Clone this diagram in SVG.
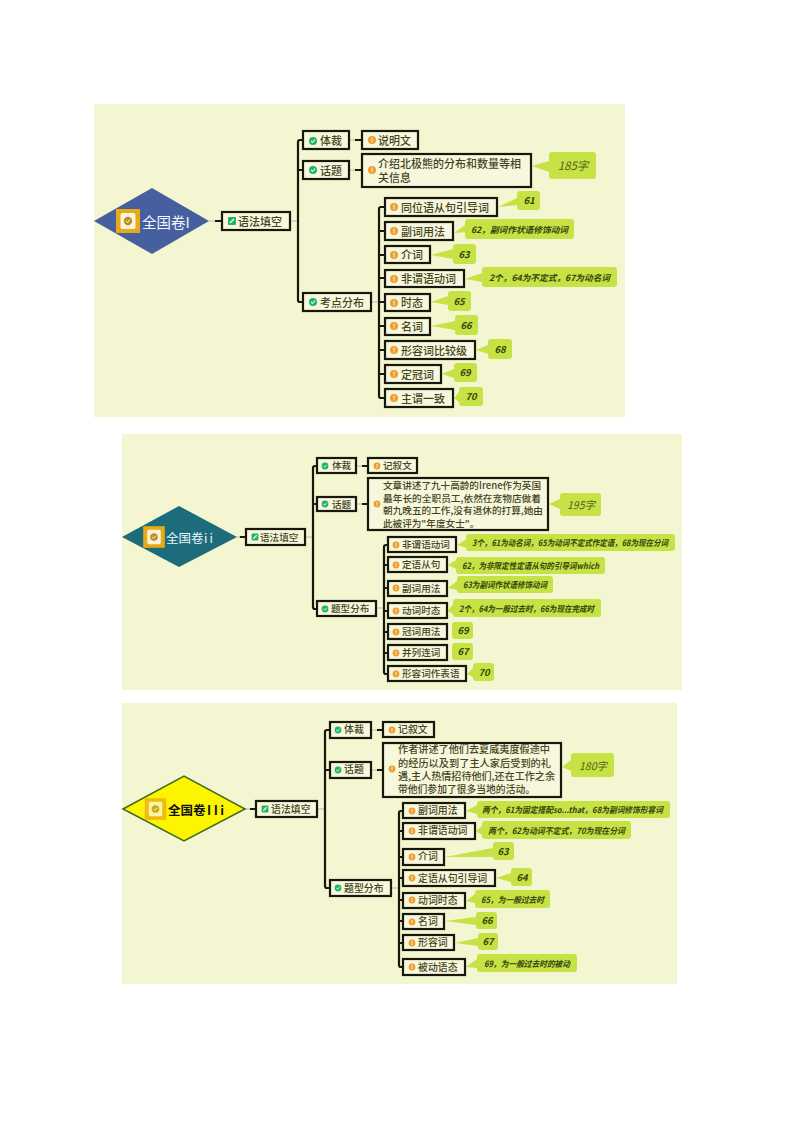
<svg xmlns="http://www.w3.org/2000/svg" width="794" height="1123" viewBox="0 0 794 1123">
<style>
text{font-family:"Noto Sans CJK SC","Liberation Sans",sans-serif;dominant-baseline:central;fill:#45441e;font-weight:500}
.p{fill:#f3f6d0}
.b{fill:#f6f7dc;stroke:#17170c;stroke-width:2.2}
.c{fill:#c6e244}
.c text,text.n{fill:#34440c;font-style:italic;font-weight:700;font-size:8.5px}
text.n{text-anchor:middle;font-size:9.5px}
text.w{fill:#55601c;font-weight:400;font-size:11.5px;text-anchor:middle}
.l{fill:none;stroke:#17170c;stroke-width:2.2}
.s{fill:none;stroke:#c9ccd0;stroke-width:1.5}
.t1{font-size:11px}.t2{font-size:9.6px}.t3{font-size:9.9px}
</style>
<defs>
<g id="ok"><circle r="4" fill="#1fb46a"/><path d="M-2-.2 -.5 1.5 2-1.4" fill="none" stroke="#eef" stroke-width="1.1"/></g>
<g id="warn"><circle r="4" fill="#ee9e2c"/><rect x="-.6" y="-2.4" width="1.2" height="3" fill="#fbeecb"/><rect x="-.6" y="1.2" width="1.2" height="1.1" fill="#fbeecb"/></g>
<g id="pen"><rect x="-4" y="-4" width="8" height="8" rx="1" fill="#1fb46a"/><path d="M-2 2 2-2" stroke="#f4f6d2" stroke-width="1.5"/></g>
<g id="badge"><rect x="-12" y="-12" width="24" height="24" fill="#e8ab18"/><rect x="-7.5" y="-8" width="15" height="16" rx="2" fill="#fbf3dc"/><circle r="4.2" fill="#b6901e"/><path d="M-2-.2 -.5 1.4 2-1.4" fill="none" stroke="#fff" stroke-width="1"/></g>
</defs>
<rect class="p" x="94" y="104" width="531" height="313"/>
<rect class="p" x="122" y="434" width="560" height="256"/>
<rect class="p" x="122" y="703" width="555" height="281"/>

<g id="connectors">
<path class="s" d="M209 221H221M291 221H298M350 140H361M350 170H361M372 302H379"/>
<path class="l" d="M215 221H221M361 140H355M361 170H355"/>
<path class="l" d="M302 140H300Q298 140 298 142V300Q298 302 300 302H302M298 170H302"/>
<path class="l" d="M384 207H381Q379 207 379 209V396Q379 398 381 398H384M379 231H384M379 255H384M379 278H384M379 302H384M379 326H384M379 350H384M379 374H384"/>
<path class="s" d="M237 537H245M306 537H313M357 466H367M357 504H367M377 608H384"/>
<path class="l" d="M240 537H245M367 466H362M367 504H362"/>
<path class="l" d="M316 466H315Q313 466 313 468V607Q313 609 315 609H316M313 504H316"/>
<path class="l" d="M387 545H386Q384 545 384 547V672Q384 674 386 674H387M384 565H387M384 588H387M384 611H387M384 632H387M384 653H387"/>
<path class="s" d="M245 809H255M318 809H325M372 730H382M372 770H382M392 888H399"/>
<path class="l" d="M250 809H255M382 730H377M382 770H377"/>
<path class="l" d="M329 730H327Q325 730 325 732V886Q325 888 327 888H329M325 770H329"/>
<path class="l" d="M402 811H401Q399 811 399 813V965Q399 967 401 967H402M399 831H402M399 857H402M399 878H402M399 900H402M399 921H402M399 943H402"/>
</g>

<g id="sheet1">
<g id="root1"><path d="M94 221 152 188 209 221 152 254Z" fill="#46609f"/><use href="#badge" x="128" y="221"/><text x="142" y="221" style="fill:#f4f6ff;font-size:14.500px;font-weight:400">全国卷I</text></g>
<g id="n1-1"><rect class="b" x="222" y="212" width="68" height="18"/><use href="#pen" x="232" y="221"/><text class="t1" x="238" y="221">语法填空</text></g>
<g id="n1-2"><rect class="b" x="303" y="131" width="46" height="18"/><use href="#ok" x="313" y="141"/><text class="t1" x="320" y="140">体裁</text></g>
<g id="n1-3"><rect class="b" x="303" y="161" width="46" height="18"/><use href="#ok" x="313" y="170"/><text class="t1" x="320" y="170">话题</text></g>
<g id="n1-4"><rect class="b" x="303" y="293" width="68" height="18"/><use href="#ok" x="313" y="302"/><text class="t1" x="320" y="302">考点分布</text></g>
<g id="n1-5"><rect class="b" x="362" y="131" width="56" height="18"/><use href="#warn" x="372" y="140"/><text class="t1" x="378" y="140">说明文</text></g>
<g id="n1-6"><g class="c"><path d="M532 166 549 161V172Z"/><rect x="549" y="152" width="47" height="27" rx="3"/></g><rect class="b" x="362" y="154" width="169" height="33"/><use href="#warn" x="372" y="170"/><text class="t1" x="378" y="163">介绍北极熊的分布和数量等相</text><text class="t1" x="378" y="177">关信息</text><text class="w" x="573" y="165" style="font-style:italic">185字</text></g>
<g id="n1-7"><path class="c" d="M498 207 517 198V205Z"/><rect class="c" x="517" y="191" width="23" height="19" rx="3"/><rect class="b" x="385" y="198" width="112" height="18"/><use href="#warn" x="394" y="207"/><text class="t1" x="401" y="207">同位语从句引导词</text><text class="n" x="529" y="200">61</text></g>
<g id="n1-8"><path class="c" d="M454 233 468 223V232Z"/><rect class="c" x="465" y="219" width="109" height="20" rx="3"/><rect class="b" x="385" y="222" width="68" height="18"/><use href="#warn" x="394" y="231"/><text class="t1" x="401" y="231">副词用法</text><g class="c"><text x="471" y="229" textLength="97" lengthAdjust="spacingAndGlyphs">62，副词作状语修饰动词</text></g></g>
<g id="n1-9"><path class="c" d="M431 255 453 249V259Z"/><rect class="c" x="453" y="244" width="23" height="20" rx="3"/><rect class="b" x="385" y="246" width="45" height="17"/><use href="#warn" x="394" y="255"/><text class="t1" x="401" y="254">介词</text><text class="n" x="464" y="254">63</text></g>
<g id="n1-10"><path class="c" d="M465 279 482 273V282Z"/><rect class="c" x="482" y="267" width="135" height="20" rx="3"/><rect class="b" x="385" y="270" width="79" height="17"/><use href="#warn" x="394" y="279"/><text class="t1" x="401" y="278">非谓语动词</text><g class="c"><text x="489" y="277" textLength="121" lengthAdjust="spacingAndGlyphs">2个，64为不定式，67为动名词</text></g></g>
<g id="n1-11"><path class="c" d="M431 302 448 296V305Z"/><rect class="c" x="448" y="291" width="23" height="20" rx="3"/><rect class="b" x="385" y="294" width="45" height="17"/><use href="#warn" x="394" y="303"/><text class="t1" x="401" y="302">时态</text><text class="n" x="459" y="301">65</text></g>
<g id="n1-12"><path class="c" d="M431 326 455 321V330Z"/><rect class="c" x="455" y="315" width="23" height="20" rx="3"/><rect class="b" x="385" y="318" width="45" height="17"/><use href="#warn" x="394" y="326"/><text class="t1" x="401" y="326">名词</text><text class="n" x="466" y="325">66</text></g>
<g id="n1-13"><path class="c" d="M476 350 488 345V354Z"/><rect class="c" x="488" y="339" width="24" height="20" rx="3"/><rect class="b" x="385" y="341" width="90" height="18"/><use href="#warn" x="394" y="350"/><text class="t1" x="401" y="350">形容词比较级</text><text class="n" x="500" y="349">68</text></g>
<g id="n1-14"><path class="c" d="M442 374 454 369V378Z"/><rect class="c" x="454" y="363" width="23" height="19" rx="3"/><rect class="b" x="385" y="365" width="56" height="18"/><use href="#warn" x="394" y="374"/><text class="t1" x="401" y="374">定冠词</text><text class="n" x="465" y="372">69</text></g>
<g id="n1-15"><path class="c" d="M454 398 459 392V402Z"/><rect class="c" x="459" y="387" width="24" height="19" rx="3"/><rect class="b" x="385" y="389" width="68" height="18"/><use href="#warn" x="394" y="398"/><text class="t1" x="401" y="398">主谓一致</text><text class="n" x="471" y="396">70</text></g>
</g>

<g id="sheet2">
<g id="root2"><path d="M122 537 179 506 237 537 179 567Z" fill="#1c6c7c"/><use href="#badge" transform="translate(154 537) scale(.9)"/><text x="166" y="537" style="fill:#eef6fa;font-size:12.500px;font-weight:400">全国卷</text><text x="204" y="537" style="fill:#eef6fa;font-size:12.500px;font-weight:400;letter-spacing:2px">ii</text></g>
<g id="n2-1"><rect class="b" x="246" y="529" width="59" height="16"/><use href="#pen" transform="translate(255 537) scale(.85)"/><text class="t2" x="260" y="537">语法填空</text></g>
<g id="n2-2"><rect class="b" x="317" y="458" width="39" height="15"/><use href="#ok" transform="translate(325 466) scale(.85)"/><text class="t2" x="332" y="465">体裁</text></g>
<g id="n2-3"><rect class="b" x="317" y="497" width="39" height="14"/><use href="#ok" transform="translate(325 504) scale(.85)"/><text class="t2" x="332" y="504">话题</text></g>
<g id="n2-4"><rect class="b" x="317" y="601" width="59" height="15"/><use href="#ok" transform="translate(325 609) scale(.85)"/><text class="t2" x="331" y="608">题型分布</text></g>
<g id="n2-5"><rect class="b" x="368" y="458" width="49" height="15"/><use href="#warn" transform="translate(377 466) scale(.85)"/><text class="t2" x="383" y="465">记叙文</text></g>
<g id="n2-6"><g class="c"><path d="M549 504 560 499V509Z"/><rect x="560" y="493" width="41" height="23" rx="3"/></g><rect class="b" x="368" y="478" width="180" height="52"/><use href="#warn" transform="translate(377 504) scale(.85)"/><text class="t2" x="383" y="485" textLength="158">文章讲述了九十高龄的Irene作为英国</text><text class="t2" x="383" y="498" textLength="158" lengthAdjust="spacingAndGlyphs">最年长的全职员工,依然在宠物店做着</text><text class="t2" x="383" y="510" textLength="160" lengthAdjust="spacingAndGlyphs">朝九晚五的工作,没有退休的打算,她由</text><text class="t2" x="383" y="523">此被评为"年度女士"。</text><text class="w" x="581" y="504" style="font-size:10.500px;font-style:italic">195字</text></g>
<g id="n2-7"><path class="c" d="M457 545 467 539V548Z"/><rect class="c" x="466" y="534" width="209" height="17" rx="3"/><rect class="b" x="388" y="537" width="68" height="15"/><use href="#warn" transform="translate(396 545) scale(.85)"/><text class="t2" x="402" y="544">非谓语动词</text><g class="c"><text x="472" y="542" textLength="196" lengthAdjust="spacingAndGlyphs">3个，61为动名词，65为动词不定式作定语，68为现在分词</text></g></g>
<g id="n2-8"><path class="c" d="M448 565 456 560V569Z"/><rect class="c" x="456" y="557" width="149" height="17" rx="3"/><rect class="b" x="388" y="557" width="59" height="15"/><use href="#warn" transform="translate(396 565) scale(.85)"/><text class="t2" x="402" y="564">定语从句</text><g class="c"><text x="462" y="565" textLength="137" lengthAdjust="spacingAndGlyphs">62，为非限定性定语从句的引导词which</text></g></g>
<g id="n2-9"><path class="c" d="M448 588 457 581V590Z"/><rect class="c" x="457" y="576" width="96" height="17" rx="3"/><rect class="b" x="388" y="581" width="59" height="15"/><use href="#warn" transform="translate(396 588) scale(.85)"/><text class="t2" x="402" y="588">副词用法</text><g class="c"><text x="463" y="584" textLength="84" lengthAdjust="spacingAndGlyphs">63为副词作状语修饰动词</text></g></g>
<g id="n2-10"><path class="c" d="M448 611 453 604V614Z"/><rect class="c" x="453" y="599" width="148" height="18" rx="3"/><rect class="b" x="388" y="603" width="59" height="15"/><use href="#warn" transform="translate(396 611) scale(.85)"/><text class="t2" x="402" y="610">动词时态</text><g class="c"><text x="459" y="608" textLength="135" lengthAdjust="spacingAndGlyphs">2个，64为一般过去时，66为现在完成时</text></g></g>
<g id="n2-11"><rect class="c" x="452" y="622" width="21" height="17" rx="3"/><rect class="b" x="388" y="624" width="59" height="15"/><use href="#warn" transform="translate(396 632) scale(.85)"/><text class="t2" x="402" y="631">冠词用法</text><text class="n" x="463" y="630">69</text></g>
<g id="n2-12"><rect class="c" x="452" y="643" width="21" height="17" rx="3"/><rect class="b" x="388" y="645" width="59" height="15"/><use href="#warn" transform="translate(396 653) scale(.85)"/><text class="t2" x="402" y="652">并列连词</text><text class="n" x="463" y="651">67</text></g>
<g id="n2-13"><path class="c" d="M467 674 473 668V677Z"/><rect class="c" x="473" y="663" width="21" height="18" rx="3"/><rect class="b" x="388" y="666" width="78" height="15"/><use href="#warn" transform="translate(396 674) scale(.85)"/><text class="t2" x="402" y="673">形容词作表语</text><text class="n" x="484" y="672">70</text></g>
</g>

<g id="sheet3">
<g id="root3"><path d="M123 809 184 776 245 809 184 841Z" fill="#fdf500" stroke="#3e6b20" stroke-width="1.500"/><use href="#badge" transform="translate(155.500 809) scale(.9)" opacity=".75"/><text x="168" y="809" style="fill:#111;font-weight:700;font-size:12.500px">全国卷</text><text x="207" y="809" style="fill:#111;font-weight:700;font-size:12.500px;letter-spacing:2.500px">IIi</text></g>
<g id="n3-1"><rect class="b" x="256" y="801" width="61" height="16"/><use href="#pen" transform="translate(265 809) scale(.85)"/><text class="t3" x="271" y="809">语法填空</text></g>
<g id="n3-2"><rect class="b" x="330" y="722" width="41" height="16"/><use href="#ok" transform="translate(338 730) scale(.85)"/><text class="t3" x="344" y="729">体裁</text></g>
<g id="n3-3"><rect class="b" x="330" y="762" width="41" height="16"/><use href="#ok" transform="translate(338 770) scale(.85)"/><text class="t3" x="344" y="769">话题</text></g>
<g id="n3-4"><rect class="b" x="330" y="880" width="61" height="16"/><use href="#ok" transform="translate(338 888) scale(.85)"/><text class="t3" x="344" y="888">题型分布</text></g>
<g id="n3-5"><rect class="b" x="383" y="722" width="51" height="15"/><use href="#warn" transform="translate(392 730) scale(.85)"/><text class="t3" x="398" y="729">记叙文</text></g>
<g id="n3-6"><g class="c"><path d="M562 767 571 760V771Z"/><rect x="571" y="753" width="43" height="24" rx="3"/></g><rect class="b" x="383" y="743" width="178" height="54"/><use href="#warn" transform="translate(392 769) scale(.85)"/><text class="t3" x="398" y="749" textLength="152" lengthAdjust="spacingAndGlyphs">作者讲述了他们去夏威夷度假途中</text><text class="t3" x="398" y="763" textLength="153" lengthAdjust="spacingAndGlyphs">的经历以及到了主人家后受到的礼</text><text class="t3" x="398" y="776" textLength="157" lengthAdjust="spacingAndGlyphs">遇,主人热情招待他们,还在工作之余</text><text class="t3" x="398" y="789" textLength="137" lengthAdjust="spacingAndGlyphs">带他们参加了很多当地的活动。</text><text class="w" x="593" y="765" style="font-size:10.500px;font-style:italic">180字</text></g>
<g id="n3-7"><path class="c" d="M466 811 477 805V814Z"/><rect class="c" x="477" y="801" width="193" height="17" rx="3"/><rect class="b" x="403" y="803" width="62" height="15"/><use href="#warn" transform="translate(412 811) scale(.85)"/><text class="t3" x="418" y="810">副词用法</text><g class="c"><text x="482" y="809" textLength="181" lengthAdjust="spacingAndGlyphs">两个，61为固定搭配so...that，68为副词修饰形容词</text></g></g>
<g id="n3-8"><path class="c" d="M476 831 482 826V835Z"/><rect class="c" x="482" y="821" width="149" height="18" rx="3"/><rect class="b" x="403" y="823" width="72" height="16"/><use href="#warn" transform="translate(412 831) scale(.85)"/><text class="t3" x="418" y="830">非谓语动词</text><g class="c"><text x="488" y="830" textLength="137" lengthAdjust="spacingAndGlyphs">两个，62为动词不定式，70为现在分词</text></g></g>
<g id="n3-9"><path class="c" d="M445 857 493 848V857Z"/><rect class="c" x="493" y="842" width="21" height="18" rx="3"/><rect class="b" x="403" y="849" width="41" height="16"/><use href="#warn" transform="translate(412 857) scale(.85)"/><text class="t3" x="418" y="856">介词</text><text class="n" x="503" y="851">63</text></g>
<g id="n3-10"><path class="c" d="M496 878 511 873V882Z"/><rect class="c" x="511" y="868" width="21" height="18" rx="3"/><rect class="b" x="403" y="870" width="92" height="16"/><use href="#warn" transform="translate(412 878) scale(.85)"/><text class="t3" x="418" y="878">定语从句引导词</text><text class="n" x="522" y="877">64</text></g>
<g id="n3-11"><path class="c" d="M466 901 475 894V903Z"/><rect class="c" x="475" y="890" width="75" height="18" rx="3"/><rect class="b" x="403" y="893" width="62" height="15"/><use href="#warn" transform="translate(412 900) scale(.85)"/><text class="t3" x="418" y="900">动词时态</text><g class="c"><text x="481" y="899" textLength="63" lengthAdjust="spacingAndGlyphs">65，为一般过去时</text></g></g>
<g id="n3-12"><path class="c" d="M445 921 476 917V925Z"/><rect class="c" x="476" y="912" width="21" height="17" rx="3"/><rect class="b" x="403" y="914" width="41" height="15"/><use href="#warn" transform="translate(412 922) scale(.85)"/><text class="t3" x="418" y="921">名词</text><text class="n" x="487" y="920">66</text></g>
<g id="n3-13"><path class="c" d="M455 943 478 938V946Z"/><rect class="c" x="478" y="933" width="20" height="17" rx="3"/><rect class="b" x="403" y="935" width="51" height="15"/><use href="#warn" transform="translate(412 943) scale(.85)"/><text class="t3" x="418" y="942">形容词</text><text class="n" x="488" y="941">67</text></g>
<g id="n3-14"><path class="c" d="M466 967 477 959V968Z"/><rect class="c" x="477" y="954" width="100" height="18" rx="3"/><rect class="b" x="403" y="959" width="62" height="16"/><use href="#warn" transform="translate(412 967) scale(.85)"/><text class="t3" x="418" y="967">被动语态</text><g class="c"><text x="484" y="963" textLength="86" lengthAdjust="spacingAndGlyphs">69，为一般过去时的被动</text></g></g>
</g>
</svg>
